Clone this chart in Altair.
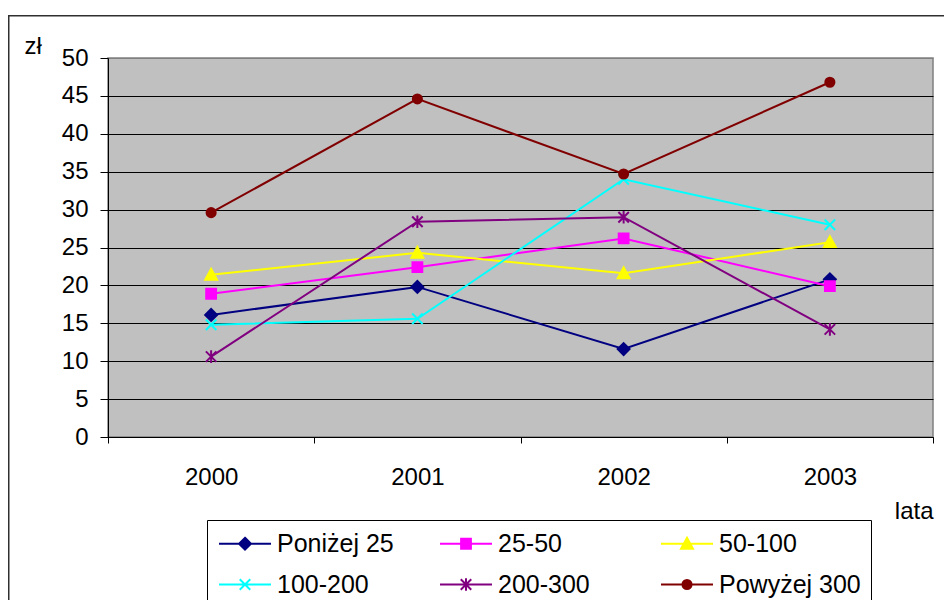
import altair as alt
import pandas as pd

# ---- data ----
years = ["2000", "2001", "2002", "2003"]
series = ["Poniżej 25", "25-50", "50-100", "100-200", "200-300", "Powyżej 300"]
v_ponizej_25 = [16.1, 19.8, 11.6, 20.8]
v_25_50 = [18.9, 22.4, 26.2, 19.9]
v_50_100 = [21.4, 24.3, 21.6, 25.7]
v_100_200 = [14.8, 15.6, 34.0, 28.0]
v_200_300 = [10.6, 28.4, 29.0, 14.2]
v_powyzej_300 = [29.6, 44.6, 34.7, 46.8]
all_values = [v_ponizej_25, v_25_50, v_50_100, v_100_200, v_200_300, v_powyzej_300]

# ---- styles ----
colors = ["#000080", "#FF00FF", "#FFFF00", "#00FFFF", "#800080", "#800000"]
marker_kinds = ["diamond", "square", "triangle", "x", "asterisk", "circle"]
FONT = "Liberation Sans"
FS = 24
LFS = 25


def marker_path(kind, k):
    def f(v):
        return f"{v * k:.4f}"
    if kind == "diamond":
        return f"M0,{f(-0.85)}L{f(0.85)},0L0,{f(0.85)}L{f(-0.85)},0Z"
    if kind == "square":
        return f"M{f(-0.7)},{f(-0.7)}H{f(0.7)}V{f(0.7)}H{f(-0.7)}Z"
    if kind == "triangle":
        return f"M0,{f(-0.85)}L{f(0.85)},{f(0.7)}H{f(-0.85)}Z"
    if kind == "x":
        return (f"M{f(-0.75)},{f(-0.75)}L{f(0.75)},{f(0.75)}"
                f"M{f(-0.75)},{f(0.75)}L{f(0.75)},{f(-0.75)}")
    if kind == "asterisk":
        return (f"M{f(-0.75)},{f(-0.75)}L{f(0.75)},{f(0.75)}"
                f"M{f(-0.75)},{f(0.75)}L{f(0.75)},{f(-0.75)}"
                f"M0,{f(-0.9)}V{f(0.9)}")
    # circle
    r = f(0.65)
    return f"M-{r},0A{r},{r},0,1,1,{r},0A{r},{r},0,1,1,-{r},0Z"


# plot markers: symbol size 196 -> unit = 7 px
plot_paths = [marker_path(m, 1.0) for m in marker_kinds]
# legend symbols: symbol size 625 -> unit = 12.5 px ; line 52 px long, markers 7 px unit
LEG_UNIT = 12.5
legend_paths = [f"M{-26 / LEG_UNIT:.4f},0H{26 / LEG_UNIT:.4f}" + marker_path(m, 7 / LEG_UNIT)
                for m in marker_kinds]

kind_of = dict(zip(series, marker_kinds))
rows = []
for name, vals in zip(series, all_values):
    for yr, v in zip(years, vals):
        rows.append({"rok": yr, "seria": name, "znacznik": kind_of[name], "wartosc": v})
df = pd.DataFrame(rows)

paths_js = "[" + ",".join("'" + p + "'" for p in legend_paths) + "]"
names_js = "[" + ",".join("'" + s + "'" for s in series) + "]"
shape_expr = f"{paths_js}[indexof({names_js}, datum.value)]"

x_enc = alt.X(
    "rok:N",
    sort=years,
    scale=alt.Scale(paddingInner=0, paddingOuter=0),
    axis=alt.Axis(
        title="lata", tickBand="extent", labelAngle=0, tickSize=6,
        labelPadding=22, grid=False,
        titleX=825, titleY=74, titleAlign="right", titleBaseline="middle",
    ),
)
y_enc = alt.Y(
    "wartosc:Q",
    scale=alt.Scale(domain=[0, 50], nice=False),
    axis=alt.Axis(
        values=list(range(0, 55, 5)), title="zł", titleAngle=0,
        titleX=-84, titleY=-5, titleAlign="left", titleBaseline="alphabetic",
        tickSize=8, labelPadding=12, grid=True,
        gridColor={"condition": {"test": "datum.value >= 50", "value": "#808080"},
                   "value": "#000000"},
        gridWidth=1,
    ),
)

legend = alt.Legend(
    title=None, orient="none", legendX=99, legendY=462, columns=3,
    direction="horizontal",
    gridAlign="all", columnPadding=17, rowPadding=14, padding=10,
    strokeColor="#000000", symbolSize=LEG_UNIT * LEG_UNIT * 4, symbolStrokeWidth=2,
    symbolOffset=14.5, labelOffset=18.5, labelFontSize=LFS, labelFont=FONT,
    labelColor="#000000", labelLimit=300,
    symbolType={"expr": shape_expr},
    symbolFillColor={"expr": "scale('color', datum.value)"},
)

base = alt.Chart(df)
lines = base.mark_line(strokeWidth=2).encode(
    x=x_enc, y=y_enc,
    color=alt.Color("seria:N", scale=alt.Scale(domain=series, range=colors), legend=legend),
)
points = base.mark_point(filled=True, size=196, strokeWidth=2, opacity=1).encode(
    x=x_enc, y=y_enc,
    fill=alt.Fill("znacznik:N", scale=alt.Scale(domain=marker_kinds, range=colors), legend=None),
    stroke=alt.Stroke("znacznik:N", scale=alt.Scale(domain=marker_kinds, range=colors), legend=None),
    shape=alt.Shape("znacznik:N", scale=alt.Scale(domain=marker_kinds, range=plot_paths), legend=None),
)

frame_df = pd.DataFrame({"k": [0]})
frame_top = alt.Chart(frame_df).mark_rule(color="#303030", strokeWidth=1.6).encode(
    x=alt.value(-100), x2=alt.value(900), y=alt.value(-42.2)
)
frame_left = alt.Chart(frame_df).mark_rule(color="#303030", strokeWidth=1.5).encode(
    x=alt.value(-99.25), y=alt.value(-42.2), y2=alt.value(600)
)

chart = alt.layer(frame_top, frame_left, lines, points).properties(
    width=825, height=379,
    padding={"left": 100, "top": 50, "right": 11, "bottom": 163},
    autosize=alt.AutoSizeParams(type="none"),
    background="white",
).configure_view(
    fill="#C0C0C0", stroke="#808080", strokeWidth=1.5,
).configure_axis(
    labelFont=FONT, labelFontSize=FS, titleFont=FONT, titleFontSize=FS,
    titleFontWeight="normal", labelColor="#000000", titleColor="#000000",
    domainColor="#000000", tickColor="#000000", domainWidth=1, tickWidth=1,
)

chart.save("out.html", embed_options={"renderer": "svg", "actions": False})
